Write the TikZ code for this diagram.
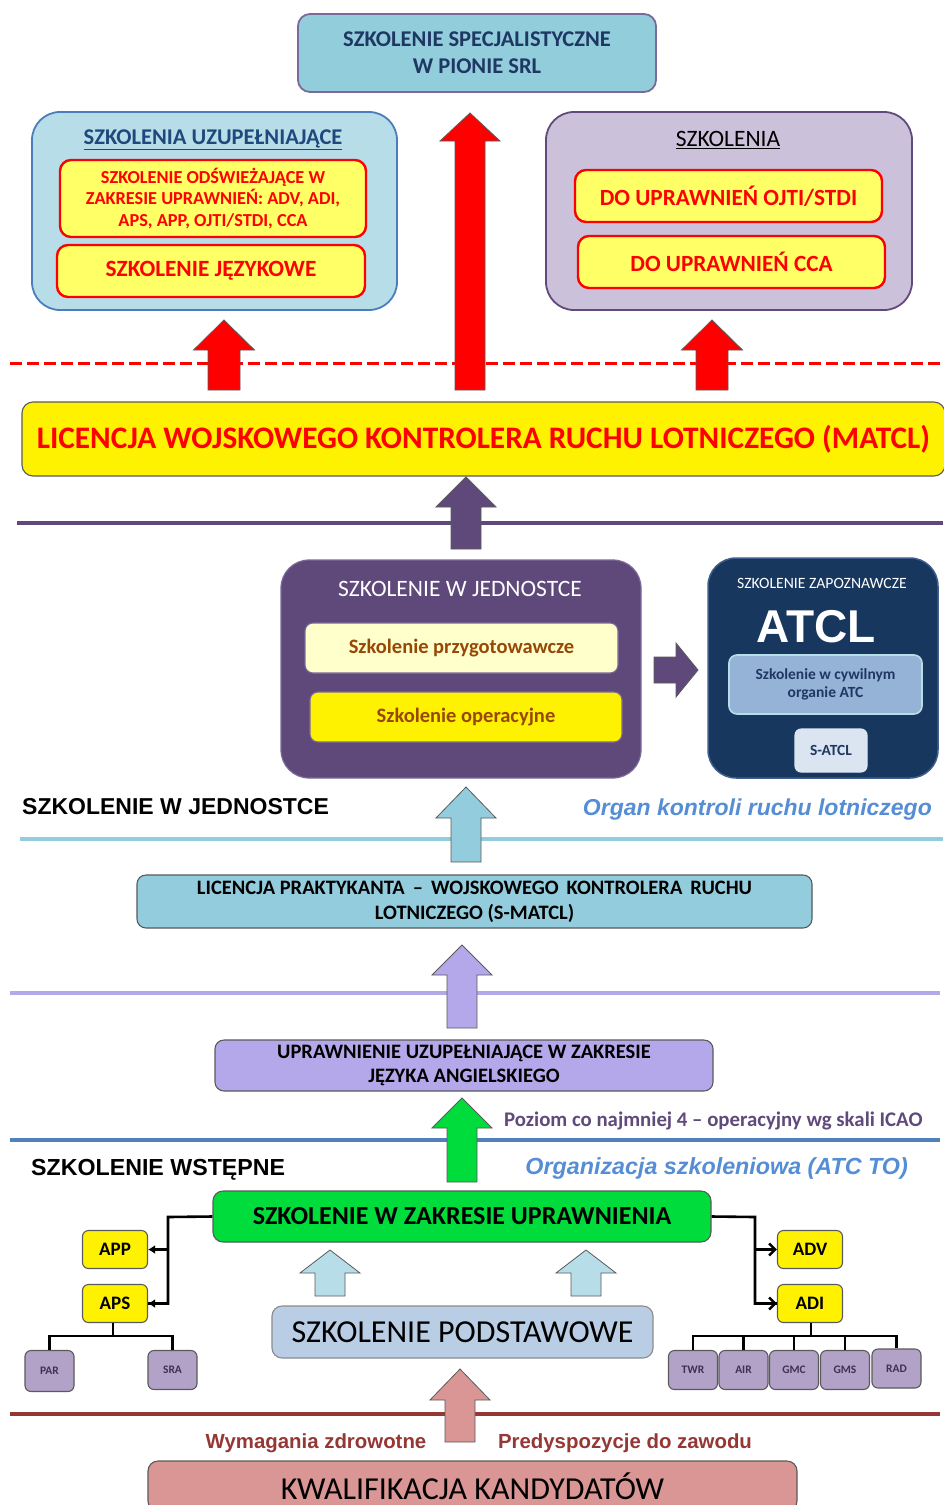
\documentclass[tikz,border=0pt]{standalone}
\usepackage{fontspec}
\setmainfont{Carlito}
\newfontfamily\arialfont{Liberation Sans}
\usepackage{tikz}
\usetikzlibrary{arrows.meta}
\definecolor{srlTeal}{HTML}{92CDDC}
\definecolor{srlText}{HTML}{1F3763}
\definecolor{srlBorder}{HTML}{7A6A99}
\definecolor{leftFill}{HTML}{B7DEE8}
\definecolor{leftBorder}{HTML}{4A7EBB}
\definecolor{leftTitle}{HTML}{1F497D}
\definecolor{rightFill}{HTML}{CCC1DA}
\definecolor{rightBorder}{HTML}{604A7B}
\definecolor{lightYellow}{HTML}{FFFF66}
\definecolor{unitPurple}{HTML}{5F497A}
\definecolor{atclNavy}{HTML}{17375E}
\definecolor{atclBorder}{HTML}{3E5F8E}
\definecolor{civilBlue}{HTML}{95B3D7}
\definecolor{satclBlue}{HTML}{DBE5F1}
\definecolor{prepYellow}{HTML}{FFFFCC}
\definecolor{brownText}{HTML}{984806}
\definecolor{traineeBlue}{HTML}{93CDDD}
\definecolor{langLav}{HTML}{B4A8EA}
\definecolor{zakresGreen}{HTML}{00DC3C}
\definecolor{lineBlue}{HTML}{4F81BD}
\definecolor{italicBlue}{HTML}{558ED5}
\definecolor{basicBlue}{HTML}{B9CDE5}
\definecolor{radarLav}{HTML}{B3A2C7}
\definecolor{radarText}{HTML}{3F3151}
\definecolor{qualPink}{HTML}{D99694}
\definecolor{qualRed}{HTML}{953735}
\definecolor{boxGrey}{HTML}{5A5A5A}

% up-pointing block arrow: centre x, tip y, bottom y, head half width, shaft half width, head length, style
\newcommand{\blockup}[7]{%
  \draw[#7] (#1,#2) -- ({#1+#4},{#2+#6}) -- ({#1+#5},{#2+#6}) -- ({#1+#5},#3)
    -- ({#1-#5},#3) -- ({#1-#5},{#2+#6}) -- ({#1-#4},{#2+#6}) -- cycle;}
\newcommand{\fsz}[2]{\fontsize{#1}{#2}\selectfont}

\begin{document}
\begin{tikzpicture} [
    x=1pt, y=-1pt,
    panel/.style={rectangle, rounded corners=28pt, line width=1.8pt, inner sep=0pt},
    redBox/.style={rectangle, rounded corners=11pt, draw=red, line width=2.4pt, fill=lightYellow, text=red, font=\bfseries, align=center, inner sep=0pt},
    plainBox/.style={rectangle, rounded corners=9pt, draw=boxGrey, line width=1.1pt, align=center, inner sep=0pt},
    smallBox/.style={rectangle, rounded corners=6pt, draw=boxGrey, line width=1.1pt, inner sep=0pt, font=\bfseries},
    radarBox/.style={smallBox, fill=radarLav, text=radarText, minimum width=49, minimum height=39, font=\bfseries\fsz{11.5}{13}},
    label/.style={inner sep=0pt},
    divider/.style={line width=3.5pt},
    edge/.style={line width=2.6pt, black},
    blockArrow/.style={draw=boxGrey, line width=0.8pt, line join=miter}
]

\fill[white] (0,0) rectangle (943,1505);
\useasboundingbox (0,0) rectangle (943,1505);

% dividing lines
\draw[divider, red, line width=3pt, dash pattern=on 12pt off 5pt] (10,363) -- (943,363);
\draw[divider, unitPurple] (17,523) -- (943,523);
\draw[divider, traineeBlue] (20,839) -- (943,839);
\draw[divider, langLav] (10,993) -- (940,993);
\draw[divider, lineBlue] (10,1140) -- (940,1140);
\draw[divider, qualRed] (10,1414) -- (940,1414);

% top level
\node[plainBox, rounded corners=12pt, fill=srlTeal, draw=srlBorder, line width=1.8pt, minimum width=358, minimum height=78, text=srlText, font=\bfseries\fsz{22.5}{27}] (srl) at (477,53) {SZKOLENIE SPECJALISTYCZNE\\W PIONIE SRL};

\node[panel, fill=leftFill, draw=leftBorder, minimum width=365, minimum height=198] (uzup) at (214.5,211) {};
\node[text=leftTitle, font=\bfseries\fsz{22.5}{24}] (uzupTitle) at (213,140) {\underline{SZKOLENIA UZUPEŁNIAJĄCE}};
\node[redBox, minimum width=306, minimum height=77, font=\bfseries\fsz{18.3}{21.5}] (refresh) at (213,198.5) {SZKOLENIE ODŚWIEŻAJĄCE W\\ZAKRESIE UPRAWNIEŃ: ADV, ADI,\\APS, APP, OJTI/STDI, CCA};
\node[redBox, minimum width=308, minimum height=52, font=\bfseries\fsz{23.3}{25}] (lang) at (211,271) {SZKOLENIE JĘZYKOWE};

\node[panel, fill=rightFill, draw=rightBorder, minimum width=366, minimum height=198] (szkol) at (729,211) {};
\node[font=\fsz{23.5}{25}] (szkolTitle) at (728,140) {\underline{SZKOLENIA}};
\node[redBox, minimum width=307, minimum height=52, font=\bfseries\fsz{23.2}{25}] (ojti) at (728.5,196) {DO UPRAWNIEŃ OJTI/STDI};
\node[redBox, minimum width=307, minimum height=52, font=\bfseries\fsz{23.2}{25}] (cca) at (731.5,262) {DO UPRAWNIEŃ CCA};

\node[plainBox, rounded corners=11pt, fill=yellow, draw=boxGrey, minimum width=923, minimum height=74, text=red, font=\bfseries\fsz{31.3}{34}] (matcl) at (483.5,439) {LICENCJA WOJSKOWEGO KONTROLERA RUCHU LOTNICZEGO (MATCL)};

\blockup{470}{113}{390}{30}{15}{28}{blockArrow, fill=red}
\blockup{224}{320}{390}{30.5}{16}{30}{blockArrow, fill=red}
\blockup{712}{320}{390}{30.5}{16}{30}{blockArrow, fill=red}
\blockup{466}{477}{549}{30}{15}{30}{blockArrow, fill=unitPurple}

% unit training
\node[panel, fill=unitPurple, draw=srlBorder, line width=1.2pt, minimum width=360, minimum height=218] (unit) at (461,669) {};
\node[text=white, font=\fsz{23.5}{25}] (unitTitle) at (460,589) {SZKOLENIE W JEDNOSTCE};
\node[plainBox, rounded corners=8pt, fill=prepYellow, draw=srlBorder, minimum width=313, minimum height=50, text=brownText, font=\bfseries\fsz{20.5}{22}] (prep) at (461.5,648) {Szkolenie przygotowawcze};
\node[plainBox, rounded corners=8pt, fill=yellow, draw=srlBorder, minimum width=312, minimum height=50, text=brownText, font=\bfseries\fsz{20.5}{22}] (oper) at (466,717) {Szkolenie operacyjne};

\draw[blockArrow, fill=unitPurple] (654,657) -- (676,657) -- (676,643) -- (698,670) -- (676,697) -- (676,683) -- (654,683) -- cycle;

\node[panel, fill=atclNavy, draw=atclBorder, line width=1.5pt, minimum width=230, minimum height=220] (atclBox) at (823,668) {};
\node[text=white, font=\fsz{15.7}{17}] (zapoz) at (822,583) {SZKOLENIE ZAPOZNAWCZE};
\node[text=white, font=\arialfont\bfseries\fsz{46}{48}] (atcl) at (816,627) {ATCL};
\node[plainBox, rounded corners=8pt, fill=civilBlue, draw=leftFill, line width=1.6pt, minimum width=193, minimum height=59, text=srlText, font=\bfseries\fsz{15.5}{18}] (civil) at (825.5,684.5) {Szkolenie w cywilnym\\organie ATC};
\node[plainBox, rounded corners=6pt, fill=satclBlue, draw=satclBlue, minimum width=72, minimum height=43, text=srlText, font=\bfseries\fsz{15.5}{17}] (satcl) at (831,750.5) {S-ATCL};

\node[label, anchor=west, font=\arialfont\bfseries\fsz{23}{25}] (jedLabel) at (22,807) {SZKOLENIE W JEDNOSTCE};
\node[label, anchor=east, text=italicBlue, font=\arialfont\bfseries\itshape\fsz{23}{26}] (organ) at (932,810) {Organ kontroli ruchu lotniczego};

\blockup{466}{787}{862}{30}{15}{31}{blockArrow, fill=traineeBlue}

% trainee licence and language
\node[plainBox, fill=traineeBlue, minimum width=675, minimum height=53, font=\bfseries\fsz{20.5}{25}] (smatcl) at (474.5,901.5) {LICENCJA PRAKTYKANTA \,–\, WOJSKOWEGO \,KONTROLERA \,RUCHU\\LOTNICZEGO (S-MATCL)};

\blockup{462}{945}{1028}{30}{15}{30}{blockArrow, fill=langLav}

\node[plainBox, fill=langLav, minimum width=498, minimum height=51, font=\bfseries\fsz{20.5}{24}] (english) at (464,1065.5) {UPRAWNIENIE UZUPEŁNIAJĄCE W ZAKRESIE\\JĘZYKA ANGIELSKIEGO};

\blockup{462}{1098}{1182}{30}{15}{30}{blockArrow, fill=zakresGreen}

\node[label, anchor=west, text=rightBorder, font=\bfseries\fsz{20.8}{22}] (poziom) at (504,1121) {Poziom co najmniej 4 – operacyjny wg skali ICAO};

% initial training
\node[label, anchor=west, font=\arialfont\bfseries\fsz{23.2}{25}] (wstepLabel) at (31,1170) {SZKOLENIE WSTĘPNE};
\node[label, anchor=east, text=italicBlue, font=\arialfont\bfseries\itshape\fsz{23.3}{26}] (orgSzk) at (908,1168) {Organizacja szkoleniowa (ATC TO)};

\node[plainBox, rounded corners=10pt, fill=zakresGreen, minimum width=498, minimum height=51, font=\bfseries\fsz{26}{28}] (zakres) at (462,1216.5) {SZKOLENIE W ZAKRESIE UPRAWNIENIA};

\node[smallBox, fill=yellow, minimum width=65, minimum height=38, font=\bfseries\fsz{19}{20}] (app) at (115,1249.5) {APP};
\node[smallBox, fill=yellow, minimum width=65, minimum height=38, font=\bfseries\fsz{19}{20}] (aps) at (115,1303.5) {APS};
\node[smallBox, fill=yellow, minimum width=65, minimum height=38, font=\bfseries\fsz{19}{20}] (adv) at (810,1249.5) {ADV};
\node[smallBox, fill=yellow, minimum width=65, minimum height=38, font=\bfseries\fsz{19}{20}] (adi) at (810,1303.5) {ADI};

\coordinate (leftBus) at (168,1217);
\coordinate (rightBus) at (755,1217);
\draw[edge] (zakres.west) -- (leftBus) |- (aps.east);
\draw[edge, -{Latex[length=7pt,width=9pt]}] (leftBus |- aps) -- (aps.east);
\draw[edge, -{Latex[length=7pt,width=9pt]}] (leftBus |- app) -- (app.east);
\draw[edge] (zakres.east) -- (rightBus) |- (adi.west);
\draw[edge, -{Straight Barb[length=6pt,width=12pt]}] (rightBus |- adi) -- (adi.west);
\draw[edge, -{Straight Barb[length=6pt,width=12pt]}] (rightBus |- adv) -- (adv.west);

\blockup{330}{1250}{1296}{30}{15}{23}{blockArrow, fill=leftFill}
\blockup{586}{1250}{1296}{30}{15}{23}{blockArrow, fill=leftFill}

\node[plainBox, rounded corners=10pt, fill=basicBlue, draw=boxGrey!70, minimum width=381, minimum height=52, font=\fsz{32}{34}] (podst) at (462.5,1332) {SZKOLENIE PODSTAWOWE};

\node[radarBox, minimum height=41] (par) at (49.5,1371) {PAR};
\node[radarBox] (sra) at (172.5,1370) {SRA};
\node[radarBox] (twr) at (693,1370) {TWR};
\node[radarBox] (air) at (743.5,1370) {AIR};
\node[radarBox] (gmc) at (794,1370) {GMC};
\node[radarBox] (gms) at (845,1370) {GMS};
\node[radarBox] (rad) at (896.5,1368.5) {RAD};

\coordinate (apsBus) at (113,1336);
\coordinate (adiBus) at (811,1336);
\draw[edge] (aps.south -| apsBus) -- (apsBus);
\draw[edge] (par.north) |- (apsBus);
\draw[edge] (sra.north) |- (apsBus);
\draw[edge] (adi.south -| adiBus) -- (adiBus);
\draw[edge] (twr.north) |- (adiBus);
\draw[edge] (air.north) |- (adiBus);
\draw[edge] (gmc.north) -- (gmc.north |- adiBus);
\draw[edge] (gms.north) |- (adiBus);
\draw[edge] (rad.north) |- (adiBus);

\blockup{460}{1369}{1442}{30}{15}{31}{blockArrow, fill=qualPink}

% candidate qualification
\node[text=qualRed, font=\arialfont\bfseries\fsz{20.4}{22}] (wymag) at (316,1443) {Wymagania zdrowotne};
\node[text=qualRed, font=\arialfont\bfseries\fsz{20.4}{22}] (predysp) at (625,1443) {Predyspozycje do zawodu};

\node[plainBox, rounded corners=10pt, fill=qualPink, minimum width=649, minimum height=50, font=\fsz{32}{34}] (kwal) at (472.5,1486) {KWALIFIKACJA KANDYDATÓW};

\end{tikzpicture}
\end{document}
